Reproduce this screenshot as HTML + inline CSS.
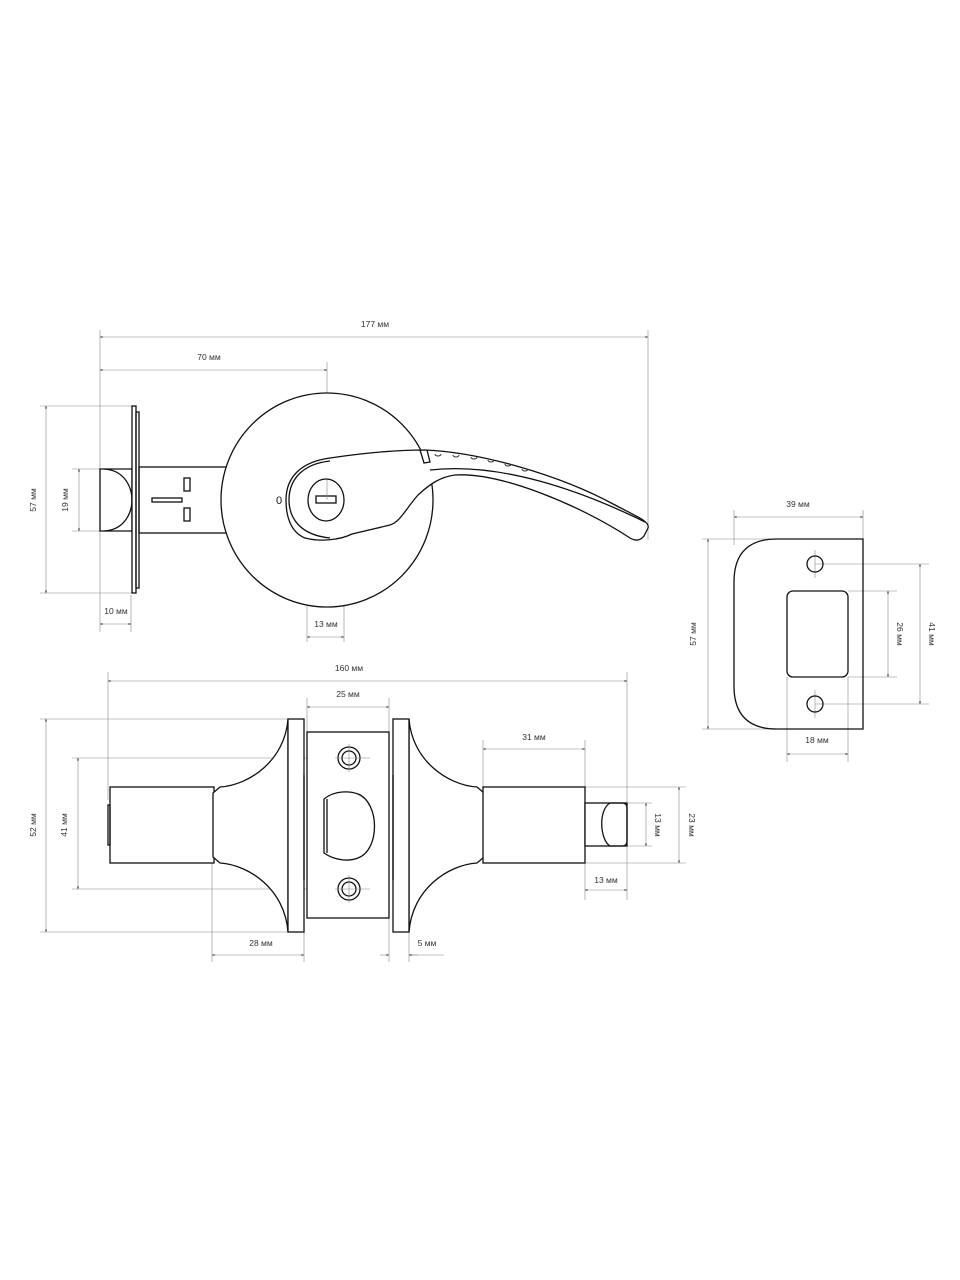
<!DOCTYPE html>
<html><head><meta charset="utf-8"><style>
html,body{margin:0;padding:0;background:#fff;}
svg{display:block;}
text{font-family:"Liberation Sans",sans-serif;font-size:8.5px;fill:#333;}
.o{fill:none;stroke:#111;stroke-width:1.3;}
.f{fill:#fff;stroke:#111;stroke-width:1.3;}
.d{fill:none;stroke:#888;stroke-width:0.6;}
.a{fill:#333;}
</style></head><body>
<svg width="960" height="1280" viewBox="0 0 960 1280" xmlns="http://www.w3.org/2000/svg">
<defs>
<marker id="m" viewBox="0 0 8 8" refX="7" refY="4" markerWidth="5" markerHeight="5" orient="auto-start-reverse"><path d="M0,1.5 L8,4 L0,6.5z" fill="#333"/></marker>
</defs>

<!-- ===== TOP VIEW ===== -->
<g class="d">
<line x1="100" y1="330" x2="100" y2="632"/>
<line x1="648" y1="330" x2="648" y2="540"/>
<line x1="327" y1="362" x2="327" y2="500"/>
<line x1="131" y1="595" x2="131" y2="632"/>
<line x1="307" y1="510" x2="307" y2="642"/>
<line x1="344" y1="510" x2="344" y2="642"/>
<line x1="40" y1="406" x2="132" y2="406"/>
<line x1="40" y1="593" x2="132" y2="593"/>
<line x1="72" y1="469" x2="100" y2="469"/>
<line x1="72" y1="531" x2="100" y2="531"/>
</g>
<g class="d" marker-start="url(#m)" marker-end="url(#m)">
<line x1="100" y1="337" x2="648" y2="337"/>
<line x1="100" y1="370" x2="327" y2="370"/>
<line x1="46" y1="406" x2="46" y2="593"/>
<line x1="79" y1="469" x2="79" y2="531"/>
<line x1="100" y1="624" x2="131" y2="624"/>
<line x1="307" y1="637" x2="344" y2="637"/>
</g>
<text x="375" y="327" text-anchor="middle">177 мм</text>
<text x="209" y="360" text-anchor="middle">70 мм</text>
<text x="116" y="614" text-anchor="middle">10 мм</text>
<text x="326" y="627" text-anchor="middle">13 мм</text>
<text transform="translate(36,500) rotate(-90)" text-anchor="middle">57 мм</text>
<text transform="translate(68,500) rotate(-90)" text-anchor="middle">19 мм</text>

<rect class="f" x="139" y="467" width="95" height="66"/>
<rect class="o" x="152" y="498" width="30" height="4"/>
<rect class="o" x="184" y="478" width="6" height="13"/>
<rect class="o" x="184" y="508" width="6" height="13"/>
<path class="f" d="M100,469 L132,469 L132,531 L100,531 Z"/>
<path class="o" d="M104,469 C125,470 132,488 132,500 C132,512 125,530 104,531"/>
<rect class="f" x="132" y="406" width="4" height="187"/>
<rect class="o" x="136" y="412" width="3" height="176"/>
<ellipse class="f" cx="327" cy="500" rx="106" ry="107"/>
<text x="279" y="504" text-anchor="middle" style="font-size:11px;fill:#111">0</text>
<circle cx="330" cy="499" r="40" fill="none" stroke="#777" stroke-width="0.7" stroke-dasharray="1.5,1.5"/>
<path class="f" d="M330,458 C370,452 400,450 424,450 C480,452 560,475 615,505 C640,518 650,522 648,528 L644,536 C640,541 635,541 630,538 C580,505 500,472 455,475 C440,477 430,484 418,495 C405,510 400,522 390,525 L352,534 C340,540 320,542 305,538 C290,532 286,515 286,500 C286,478 300,462 330,458 Z"/>
<path class="o" d="M330,461 C302,464 289,480 289,500 C289,518 300,535 330,538" stroke-width="0.8"/>
<path class="o" d="M430,470 C500,462 580,490 645,522" stroke-width="1"/>
<path class="o" d="M420,450 L424,463 L430,462 L427,450" stroke-width="0.9"/>
<g fill="none" stroke="#333" stroke-width="1">
<path d="M435,454 a3,2 0 0 0 6,0"/><path d="M453,455 a3,2 0 0 0 6,0"/><path d="M471,457 a3,2 0 0 0 6,0"/><path d="M488,460 a3,2 0 0 0 6,0"/><path d="M505,464 a3,2 0 0 0 6,0"/><path d="M522,469 a3,2 0 0 0 6,0"/>
</g>
<ellipse class="f" cx="326" cy="500" rx="18" ry="21"/>
<rect class="o" x="316" y="496" width="20" height="7"/>
<line class="d" x1="327" y1="480" x2="327" y2="500"/>

<!-- ===== BOTTOM VIEW ===== -->
<g class="d">
<line x1="108" y1="672" x2="108" y2="800"/>
<line x1="627" y1="672" x2="627" y2="900"/>
<line x1="307" y1="698" x2="307" y2="732"/>
<line x1="389" y1="698" x2="389" y2="732"/>
<line x1="40" y1="719" x2="288" y2="719"/>
<line x1="40" y1="932" x2="288" y2="932"/>
<line x1="72" y1="758" x2="370" y2="758"/>
<line x1="72" y1="889" x2="370" y2="889"/>
<line x1="349" y1="740" x2="349" y2="776"/>
<line x1="349" y1="871" x2="349" y2="907"/>
<line x1="483" y1="740" x2="483" y2="787"/>
<line x1="585" y1="740" x2="585" y2="900"/>
<line x1="585" y1="787" x2="686" y2="787"/>
<line x1="585" y1="863" x2="686" y2="863"/>
<line x1="612" y1="803" x2="652" y2="803"/>
<line x1="612" y1="846" x2="652" y2="846"/>
<line x1="212" y1="863" x2="212" y2="962"/>
<line x1="304" y1="932" x2="304" y2="962"/>
<line x1="389" y1="918" x2="389" y2="962"/>
<line x1="409" y1="932" x2="409" y2="962"/>
<line x1="409" y1="955" x2="444" y2="955"/>
</g>
<g class="d" marker-start="url(#m)" marker-end="url(#m)">
<line x1="108" y1="681" x2="627" y2="681"/>
<line x1="307" y1="707" x2="389" y2="707"/>
<line x1="46" y1="719" x2="46" y2="932"/>
<line x1="78" y1="758" x2="78" y2="889"/>
<line x1="483" y1="749" x2="585" y2="749"/>
<line x1="679" y1="787" x2="679" y2="863"/>
<line x1="646" y1="803" x2="646" y2="846"/>
<line x1="585" y1="890" x2="627" y2="890"/>
<line x1="212" y1="955" x2="304" y2="955"/>
</g>
<g class="d" marker-end="url(#m)">
<line x1="380" y1="955" x2="389" y2="955"/>
<line x1="418" y1="955" x2="409" y2="955"/>
</g>
<text x="349" y="671" text-anchor="middle">160 мм</text>
<text x="348" y="697" text-anchor="middle">25 мм</text>
<text x="534" y="740" text-anchor="middle">31 мм</text>
<text x="606" y="883" text-anchor="middle">13 мм</text>
<text x="261" y="946" text-anchor="middle">28 мм</text>
<text x="427" y="946" text-anchor="middle">5 мм</text>
<text transform="translate(36,825) rotate(-90)" text-anchor="middle">52 мм</text>
<text transform="translate(67,825) rotate(-90)" text-anchor="middle">41 мм</text>
<text transform="translate(655,825) rotate(90)" text-anchor="middle">13 мм</text>
<text transform="translate(689,825) rotate(90)" text-anchor="middle">23 мм</text>

<rect class="f" x="110" y="787" width="104" height="76"/>
<rect class="o" x="108" y="805" width="2" height="40"/>
<path class="f" d="M288,719 C285,760 250,785 220,787 L213,793 L213,857 L220,863 C250,865 285,890 288,932 Z"/>
<rect class="f" x="288" y="719" width="16" height="213"/>
<path class="f" d="M409,719 C412,760 447,785 477,787 L484,793 L484,857 L477,863 C447,865 412,890 409,932 Z"/>
<rect class="f" x="393" y="719" width="16" height="213"/>
<rect class="f" x="483" y="787" width="102" height="76"/>
<rect class="f" x="585" y="803" width="42" height="43"/>
<path class="o" d="M610,803 L622,803 Q627,803 627,808 L627,841 Q627,846 622,846 L610,846 C600,840 598,810 610,803 Z" fill="#fff"/>
<rect class="f" x="307" y="732" width="82" height="186"/>
<line class="o" x1="304" y1="775" x2="304" y2="880" stroke-width="0.8"/>
<line class="o" x1="393" y1="775" x2="393" y2="880" stroke-width="0.8"/>
<circle class="o" cx="349" cy="758" r="11"/><circle class="o" cx="349" cy="758" r="7"/>
<circle class="o" cx="349" cy="889" r="11"/><circle class="o" cx="349" cy="889" r="7"/>
<line class="d" x1="349" y1="744" x2="349" y2="772"/><line class="d" x1="335" y1="758" x2="370" y2="758"/>
<line class="d" x1="349" y1="875" x2="349" y2="903"/><line class="d" x1="335" y1="889" x2="370" y2="889"/>
<path class="o" d="M324,799 C335,790 350,791 358,794 C380,803 380,850 358,858 C348,862 334,860 324,853 Z"/>
<line class="o" x1="327" y1="799" x2="327" y2="853" stroke-width="0.8"/>

<!-- ===== STRIKE PLATE ===== -->
<g class="d">
<line x1="734" y1="510" x2="734" y2="545"/>
<line x1="863" y1="510" x2="863" y2="540"/>
<line x1="702" y1="539" x2="780" y2="539"/>
<line x1="702" y1="729" x2="780" y2="729"/>
<line x1="815" y1="564" x2="929" y2="564"/>
<line x1="815" y1="704" x2="929" y2="704"/>
<line x1="848" y1="591" x2="897" y2="591"/>
<line x1="848" y1="677" x2="897" y2="677"/>
<line x1="787" y1="677" x2="787" y2="762"/>
<line x1="848" y1="677" x2="848" y2="762"/>
<line x1="815" y1="550" x2="815" y2="578"/>
<line x1="815" y1="690" x2="815" y2="718"/>
</g>
<g class="d" marker-start="url(#m)" marker-end="url(#m)">
<line x1="734" y1="517" x2="863" y2="517"/>
<line x1="708" y1="539" x2="708" y2="729"/>
<line x1="888" y1="591" x2="888" y2="677"/>
<line x1="920" y1="564" x2="920" y2="704"/>
<line x1="787" y1="754" x2="848" y2="754"/>
</g>
<text x="798" y="507" text-anchor="middle">39 мм</text>
<text x="817" y="743" text-anchor="middle">18 мм</text>
<text transform="translate(696,634) rotate(-90)" text-anchor="middle">57 мм</text>
<text transform="translate(897,634) rotate(90)" text-anchor="middle">26 мм</text>
<text transform="translate(929,634) rotate(90)" text-anchor="middle">41 мм</text>
<path class="o" d="M777,539 L863,539 L863,729 L777,729 Q734,729 734,686 L734,582 Q734,539 777,539 Z"/>
<rect class="o" x="787" y="591" width="61" height="86" rx="6"/>
<circle class="o" cx="815" cy="564" r="8"/>
<circle class="o" cx="815" cy="704" r="8"/>
</svg>
</body></html>
